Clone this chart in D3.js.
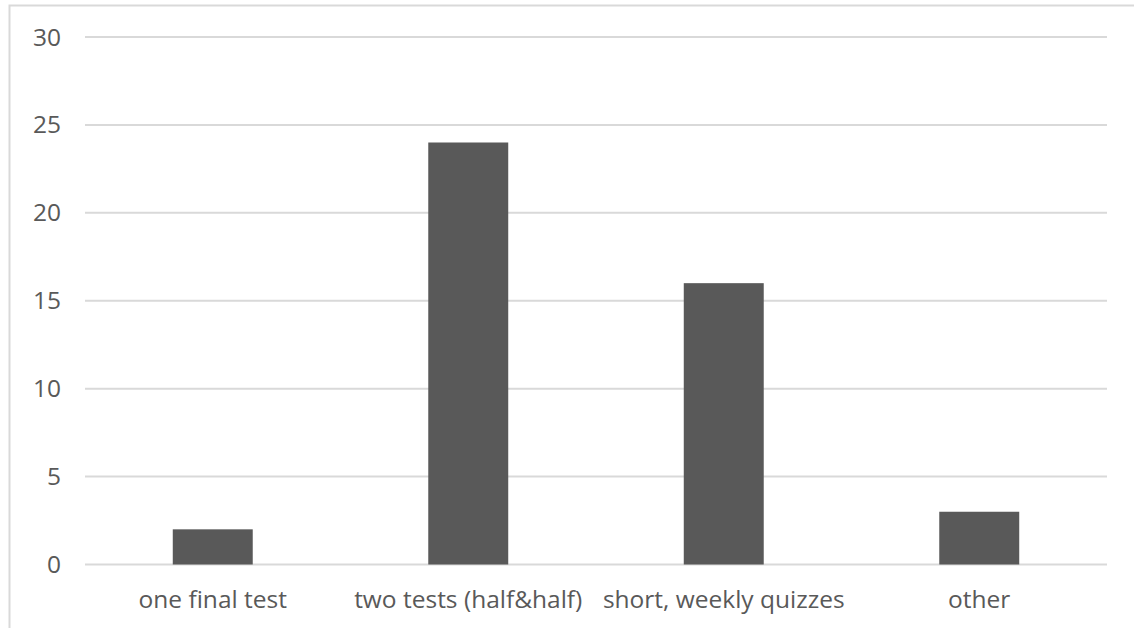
<!DOCTYPE html>
<html>
<head>
<meta charset="utf-8">
<script src="https://cdn.jsdelivr.net/npm/d3@7"></script>
<style>
  body { margin: 0; background: #fff; }
  text { font-family: "Open Sans", sans-serif; fill: #595959; }
</style>
</head>
<body>
<div id="chart"></div>
<script>
var categories = ["one final test", "two tests (half&half)", "short, weekly quizzes", "other"];
var values = [2, 24, 16, 3];
var yTicks = [0, 5, 10, 15, 20, 25, 30];

var width = 1134, height = 628;
var margin = {left: 85, right: 27, top: 37, bottom: 63.5};

var svg = d3.select("#chart").append("svg")
  .attr("width", width)
  .attr("height", height);

// outer chart border (runs off right/bottom of window)
svg.append("rect")
  .attr("x", 9.5).attr("y", 5.5)
  .attr("width", width + 20).attr("height", height + 20)
  .attr("fill", "none")
  .attr("stroke", "#d9d9d9")
  .attr("stroke-width", 2);

var x = d3.scaleBand()
  .domain(categories)
  .range([margin.left, width - margin.right])
  .paddingInner(0.687)
  .paddingOuter(0.3435);

var y = d3.scaleLinear()
  .domain([0, 30])
  .range([height - margin.bottom, margin.top]);

// gridlines
svg.append("g")
  .selectAll("line")
  .data(yTicks)
  .enter().append("line")
  .attr("x1", margin.left)
  .attr("x2", width - margin.right)
  .attr("y1", function(d) { return y(d); })
  .attr("y2", function(d) { return y(d); })
  .attr("stroke", "#d9d9d9")
  .attr("stroke-width", 2);

// y labels
svg.append("g")
  .selectAll("text")
  .data(yTicks)
  .enter().append("text")
  .attr("x", 61)
  .attr("y", function(d) { return y(d); })
  .attr("dy", "0.35em")
  .attr("text-anchor", "end")
  .style("font-size", "24.5px")
  .text(function(d) { return d; });

// bars
svg.append("g")
  .selectAll("rect")
  .data(values)
  .enter().append("rect")
  .attr("x", function(d, i) { return x(categories[i]); })
  .attr("y", function(d) { return y(d); })
  .attr("width", x.bandwidth())
  .attr("height", function(d) { return y(0) - y(d); })
  .attr("fill", "#595959");

// x labels
svg.append("g")
  .selectAll("text")
  .data(categories)
  .enter().append("text")
  .attr("x", function(d) { return x(d) + x.bandwidth() / 2; })
  .attr("y", 608)
  .attr("text-anchor", "middle")
  .style("font-size", "24.5px")
  .text(function(d) { return d; });
</script>
</body>
</html>
